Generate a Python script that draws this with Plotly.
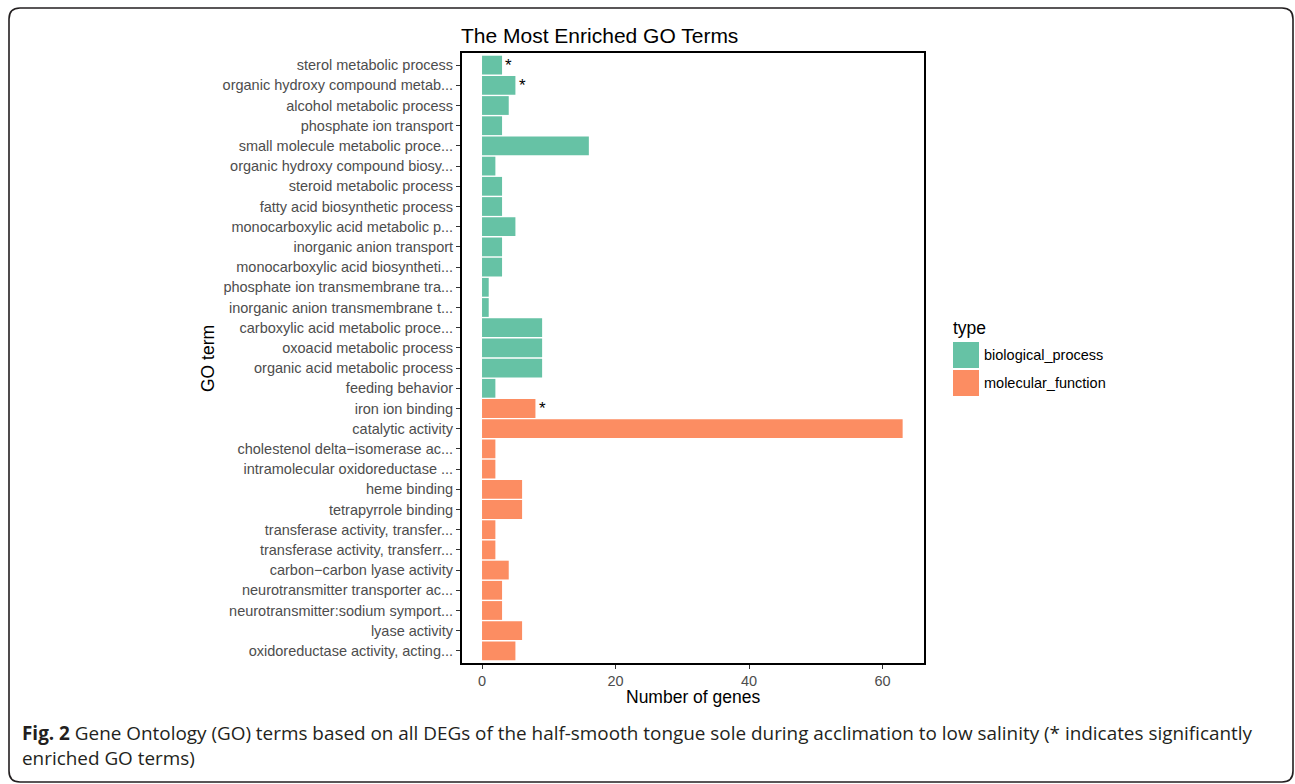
import plotly.graph_objects as go

# GO terms, top to bottom
terms = [
    "sterol metabolic process",
    "organic hydroxy compound metab...",
    "alcohol metabolic process",
    "phosphate ion transport",
    "small molecule metabolic proce...",
    "organic hydroxy compound biosy...",
    "steroid metabolic process",
    "fatty acid biosynthetic process",
    "monocarboxylic acid metabolic p...",
    "inorganic anion transport",
    "monocarboxylic acid biosyntheti...",
    "phosphate ion transmembrane tra...",
    "inorganic anion transmembrane t...",
    "carboxylic acid metabolic proce...",
    "oxoacid metabolic process",
    "organic acid metabolic process",
    "feeding behavior",
    "iron ion binding",
    "catalytic activity",
    "cholestenol delta\u2212isomerase ac...",
    "intramolecular oxidoreductase ...",
    "heme binding",
    "tetrapyrrole binding",
    "transferase activity, transfer...",
    "transferase activity, transferr...",
    "carbon\u2212carbon lyase activity",
    "neurotransmitter transporter ac...",
    "neurotransmitter:sodium symport...",
    "lyase activity",
    "oxidoreductase activity, acting...",
]
gene_counts = [3, 5, 4, 3, 16, 2, 3, 3, 5, 3, 3, 1, 1, 9, 9, 9, 2,
               8, 63, 2, 2, 6, 6, 2, 2, 4, 3, 3, 6, 5]
term_type = ["biological_process"] * 17 + ["molecular_function"] * 13
significant = ["sterol metabolic process",
               "organic hydroxy compound metab...",
               "iron ion binding"]

type_colors = {"biological_process": "#66c2a5", "molecular_function": "#fc8d62"}

FONT = "Liberation Sans, Arial, sans-serif"
W, H = 1295, 784
L, R, T, B = 462, 924, 53, 663  # plot area in pixels


def px(x, y):
    """Pixel position -> paper coordinates."""
    return (x - L) / (R - L), (B - y) / (B - T)


fig = go.Figure()
for t in type_colors:
    ys = [term for term, tt in zip(terms, term_type) if tt == t]
    xs = [v for v, tt in zip(gene_counts, term_type) if tt == t]
    fig.add_trace(go.Bar(
        x=xs, y=ys, orientation="h", name=t, width=0.93,
        marker=dict(color=type_colors[t], line=dict(width=0)),
        showlegend=False,
    ))

annotations = []
for term, v in zip(terms, gene_counts):
    if term in significant:
        annotations.append(dict(
            x=v + 0.2, y=term, xref="x", yref="y", text="*", showarrow=False,
            xanchor="left", yanchor="middle", yshift=0,
            font=dict(family=FONT, size=17, color="black")))

# axis titles
gx, gy = px(208, 358)
annotations.append(dict(x=gx, y=gy, xref="paper", yref="paper", text="GO term",
                        textangle=-90, showarrow=False, xanchor="center", yanchor="middle",
                        font=dict(family=FONT, size=17.5, color="black")))
nx, ny = px(693, 697)
annotations.append(dict(x=nx, y=ny, xref="paper", yref="paper", text="Number of genes",
                        showarrow=False, xanchor="center", yanchor="middle",
                        font=dict(family=FONT, size=17.5, color="black")))

# legend
shapes = []
lx, ly = px(951, 328)
annotations.append(dict(x=lx, y=ly, xref="paper", yref="paper", text="type",
                        showarrow=False, xanchor="left", yanchor="middle",
                        font=dict(family=FONT, size=17.5, color="black")))
for i, (t, c) in enumerate(type_colors.items()):
    top = 342 + i * 28
    x0, y0 = px(953, top + 26)
    x1, y1 = px(979, top)
    shapes.append(dict(type="rect", xref="paper", yref="paper", x0=x0, y0=y0, x1=x1, y1=y1,
                       fillcolor=c, line=dict(width=0)))
    tx, ty = px(982, top + 13)
    annotations.append(dict(x=tx, y=ty, xref="paper", yref="paper", text=t,
                            showarrow=False, xanchor="left", yanchor="middle",
                            font=dict(family=FONT, size=14.5, color="black")))

# caption
cap_font = dict(family="Open Sans", size=18.9, color="#231f20")
c1x, c1y = px(20, 733)
annotations.append(dict(
    x=c1x, y=c1y, xref="paper", yref="paper", showarrow=False, xanchor="left", yanchor="middle",
    text="<b>Fig. 2</b> Gene Ontology (GO) terms based on all DEGs of the half-smooth tongue sole "
         "during acclimation to low salinity (* indicates significantly",
    font=cap_font))
c2x, c2y = px(20, 758)
annotations.append(dict(x=c2x, y=c2y, xref="paper", yref="paper", showarrow=False,
                        xanchor="left", yanchor="middle", text="enriched GO terms)", font=cap_font))

# rounded outer frame
fx0, fy0, fx1, fy1, r = 9, 8, 1293, 782, 11


def P(x, y):
    a, b = px(x, y)
    return f"{a:.5f},{b:.5f}"


path = (f"M {P(fx0 + r, fy0)} L {P(fx1 - r, fy0)} Q {P(fx1, fy0)} {P(fx1, fy0 + r)} "
        f"L {P(fx1, fy1 - r)} Q {P(fx1, fy1)} {P(fx1 - r, fy1)} "
        f"L {P(fx0 + r, fy1)} Q {P(fx0, fy1)} {P(fx0, fy1 - r)} "
        f"L {P(fx0, fy0 + r)} Q {P(fx0, fy0)} {P(fx0 + r, fy0)} Z")
shapes.append(dict(type="path", xref="paper", yref="paper", path=path,
                   line=dict(color="#231f20", width=1.6), fillcolor="rgba(0,0,0,0)"))

fig.update_layout(
    width=W, height=H,
    margin=dict(l=L, r=W - R, t=T, b=H - B, pad=0),
    paper_bgcolor="white", plot_bgcolor="white",
    barmode="overlay",
    title=dict(text="The Most Enriched GO Terms", x=(L - 1) / W, xanchor="left",
               y=1 - 36 / H, yanchor="middle",
               font=dict(family=FONT, size=21, color="black")),
    xaxis=dict(range=[-3.0, 66.2], tickvals=[0, 20, 40, 60], showgrid=False, zeroline=False,
               showline=True, linecolor="black", linewidth=2, mirror=True,
               ticks="outside", ticklen=4, tickwidth=1, tickcolor="#333333",
               tickfont=dict(family=FONT, size=14.5, color="#4d4d4d")),
    yaxis=dict(type="category", categoryorder="array", categoryarray=terms,
               range=[29.6, -0.6], showgrid=False, zeroline=False,
               showline=True, linecolor="black", linewidth=2, mirror=True,
               ticks="outside", ticklen=4, tickwidth=1, tickcolor="#333333",
               tickfont=dict(family=FONT, size=14.5, color="#4d4d4d")),
    annotations=annotations,
    shapes=shapes,
)

fig.write_html("out.html")
